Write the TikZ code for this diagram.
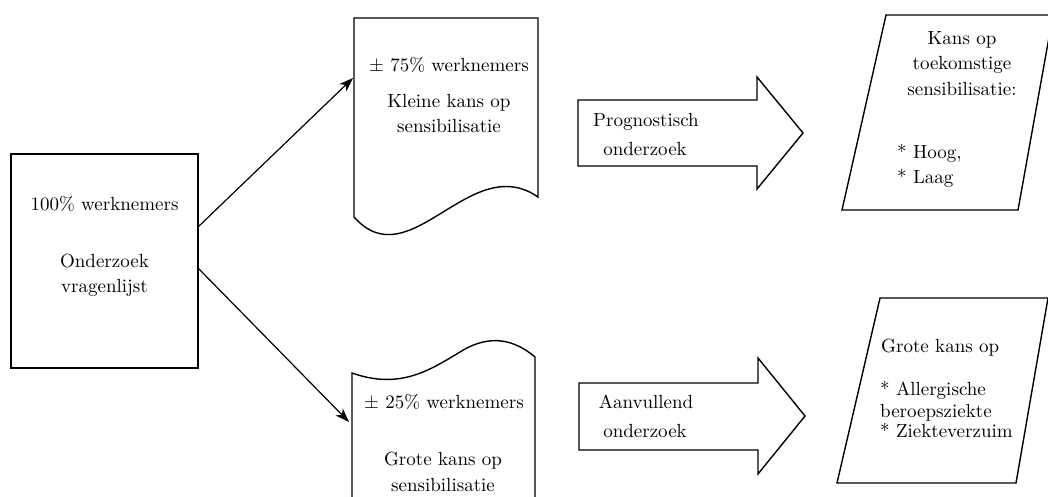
\documentclass[tikz,border=0pt]{standalone}
\usepackage{fontspec}
\setmainfont{lmroman10-regular.otf}
\usetikzlibrary{arrows.meta}
\begin{document}
\begin{tikzpicture}[x=1pt,y=-1pt,
  outline/.style={draw, line width=1.4pt, line join=miter},
  txt/.style={font=\fontsize{19}{24}\selectfont, inner sep=0pt, anchor=base},
  ltxt/.style={txt, anchor=base west},
  conn/.style={line width=1.2pt, -{Stealth[length=14pt,width=10pt,inset=4pt]}}]
\useasboundingbox (0,0) rectangle (1048,497);
\clip (0,0) rectangle (1048,497);

% left box
\node[outline, minimum width=187pt, minimum height=214pt, inner sep=0pt] (box) at (104.5,261) {};
\node[txt] (b1) at (104.5,210) {100\% werknemers};
\node[txt] (b2) at (104.5,267) {Onderzoek};
\node[txt] (b3) at (104.5,292) {vragenlijst};

% top document
\draw[outline] (354,217) -- (354,18) -- (538,18) -- (538,197)
  .. controls (470,150) and (410,280) .. (354,217) -- cycle;
\node[txt] (d1) at (449,72) {\char"00B1\ 75\% werknemers};
\node[txt] (d2) at (449,108) {Kleine kans op};
\node[txt] (d3) at (449,133) {sensibilisatie};

% bottom document (inverted)
\draw[outline] (352,520) -- (352,373)
  .. controls (400,390) and (430,370) .. (460,352)
  .. controls (490,333) and (515,340) .. (535,357) -- (535,520);
\node[txt] (e1) at (444,408) {\char"00B1\ 25\% werknemers};
\node[txt] (e2) at (443,465) {Grote kans op};
\node[txt] (e3) at (443,491) {sensibilisatie};

% connectors
\coordinate (s1) at (198,227);
\coordinate (t1) at (353,78);
\coordinate (s2) at (198,268);
\coordinate (t2) at (349,422);
\draw[conn] (s1) -- (t1);
\draw[conn] (s2) -- (t2);

% block arrows
\draw[outline] (578,100) -- (757,100) -- (757,77) -- (803,133) -- (757,189) -- (757,166) -- (578,166) -- cycle;
\node[txt] (p1) at (646,127) {Prognostisch};
\node[txt] (p2) at (645,156) {onderzoek};

\draw[outline] (579,383) -- (758,383) -- (758,358) -- (805,416) -- (758,474) -- (758,450) -- (579,450) -- cycle;
\node[txt] (a1) at (646,408) {Aanvullend};
\node[txt] (a2) at (645,437) {onderzoek};

% parallelograms
\draw[outline] (886,15) -- (1053,15) -- (1018,210) -- (842,210) -- cycle;
\node[txt] (k1) at (962,45) {Kans op};
\node[txt] (k2) at (962,70) {toekomstige};
\node[txt] (k3) at (962,96) {sensibilisatie:};
\node[ltxt] (k4) at (897,159) {* Hoog,};
\node[ltxt] (k5) at (897,183) {* Laag};

\draw[outline] (880,298) -- (1048,298) -- (1016,483) -- (837,483) -- cycle;
\node[ltxt] (g1) at (881,352) {Grote kans op};
\node[ltxt] (g2) at (880,395) {* Allergische};
\node[ltxt] (g3) at (880,417) {beroepsziekte};
\node[ltxt] (g4) at (880,437) {* Ziekteverzuim};
\end{tikzpicture}
\end{document}
